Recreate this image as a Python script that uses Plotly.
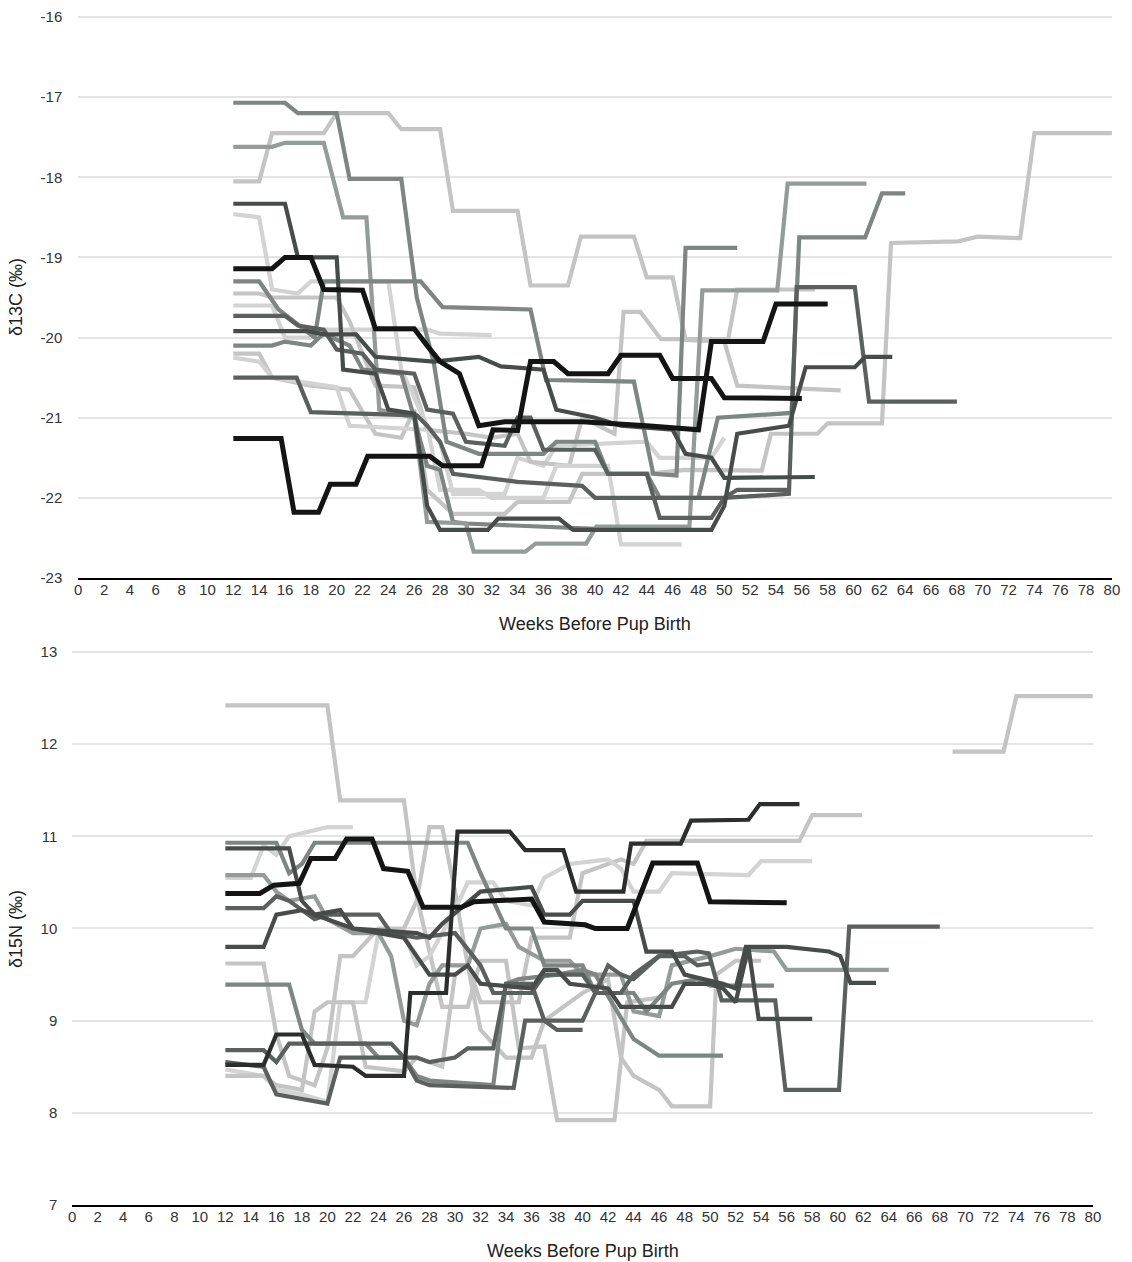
import plotly.graph_objects as go

W, H = 1132, 1262

# ---------------- δ13C panel data (weeks, value) ----------------
c1_w = [12, 16, 17, 20, 21, 25, 26.2, 27.5, 28.5, 31, 36, 37, 40, 41, 44, 45, 48, 49.5, 55.2, 55.8, 60.9, 62.2, 64]
c1_v = [-17.07, -17.07, -17.2, -17.2, -18.02, -18.02, -19.5, -20.3, -21.3, -21.45, -21.45, -21.3, -21.3, -21.7, -21.7, -22.0, -22.0, -21.0, -20.94, -18.75, -18.75, -18.2, -18.2]
c2_w = [12, 15, 16, 19, 20.5, 22.3, 23.3, 26, 27, 30, 30.6, 34.6, 35.4, 39.3, 40.1, 47.3, 48.3, 54.1, 54.9, 61]
c2_v = [-17.62, -17.62, -17.57, -17.57, -18.5, -18.5, -20.9, -21.0, -22.3, -22.32, -22.67, -22.67, -22.57, -22.57, -22.36, -22.36, -19.41, -19.41, -18.08, -18.08]
c3_w = [12, 14, 15, 19, 20, 24, 25, 28, 29, 34, 35, 37.9, 38.9, 43, 44, 46, 47, 50, 51, 59]
c3_v = [-18.05, -18.05, -17.45, -17.45, -17.2, -17.2, -17.4, -17.4, -18.42, -18.42, -19.35, -19.35, -18.74, -18.74, -19.25, -19.25, -20.03, -20.05, -20.6, -20.66]
c4_w = [12, 16, 17, 20, 20.5, 23, 24, 26, 27, 28, 31.7, 32.5, 37.2, 38.3, 49, 50, 51, 55, 56.3, 60.1, 60.9, 63]
c4_v = [-18.33, -18.33, -19.0, -19.0, -20.4, -20.45, -20.9, -20.95, -22.1, -22.4, -22.4, -22.26, -22.26, -22.4, -22.4, -22.1, -21.2, -21.1, -20.37, -20.37, -20.24, -20.24]
c5_w = [12, 14, 15, 17, 18, 24, 25, 27, 28, 31, 32, 36, 37, 41, 42, 46.7]
c5_v = [-18.46, -18.5, -19.4, -19.45, -19.3, -19.3, -20.4, -21.1, -21.9, -21.9, -22.0, -22.0, -21.6, -21.6, -22.58, -22.58]
c6_w = [12, 15, 16, 18, 19, 22, 23, 26, 27, 28, 29.5, 31, 33, 39, 44, 48, 49, 53, 54, 58]
c6_v = [-19.14, -19.14, -19.0, -19.0, -19.4, -19.41, -19.89, -19.89, -20.1, -20.3, -20.45, -21.1, -21.05, -21.05, -21.1, -21.15, -20.05, -20.05, -19.58, -19.58]
c7_w = [12, 15.7, 16.7, 18.6, 19.5, 21.5, 22.4, 27.2, 28.2, 31.2, 32.1, 34, 35, 36.8, 37.9, 41, 42, 45, 46, 49, 50, 56]
c7_v = [-21.26, -21.26, -22.18, -22.18, -21.83, -21.83, -21.48, -21.48, -21.6, -21.6, -21.15, -21.16, -20.3, -20.3, -20.45, -20.45, -20.22, -20.22, -20.51, -20.51, -20.75, -20.76]
c8_w = [12, 14, 15.5, 18.3, 19, 26.5, 28.2, 35, 36.2, 43, 44.5, 46.3, 47, 51]
c8_v = [-19.3, -19.3, -19.65, -20.0, -19.3, -19.3, -19.62, -19.65, -20.53, -20.55, -21.7, -21.72, -18.88, -18.88]
c9_w = [12, 17.8, 19, 21.5, 23, 27.5, 31, 32.7, 36, 37, 40, 42, 46, 47, 49, 50, 57]
c9_v = [-19.92, -19.92, -19.96, -19.96, -20.24, -20.3, -20.24, -20.36, -20.4, -20.9, -21.0, -21.1, -21.15, -21.45, -21.5, -21.75, -21.74]
c10_w = [12, 16.9, 18, 26.2, 27, 28, 29, 34, 39, 40, 50, 51, 55]
c10_v = [-20.5, -20.5, -20.93, -20.97, -21.1, -21.3, -21.7, -21.8, -21.85, -22.0, -22.0, -21.9, -21.9]
c11_w = [12, 16, 17, 19, 20, 22, 23, 26, 27, 29, 30, 33, 34, 35, 36, 40, 41, 44, 45, 49, 50, 55, 55.6, 60.1, 61.2, 68]
c11_v = [-19.73, -19.73, -19.85, -19.9, -20.15, -20.2, -20.4, -20.45, -20.9, -20.95, -21.3, -21.35, -21.0, -21.0, -21.4, -21.4, -21.7, -21.7, -22.25, -22.25, -22.0, -21.95, -19.37, -19.37, -20.8, -20.8]
c12_w = [12, 14, 15, 18, 21, 23, 25, 26, 27, 29, 33, 34, 38, 39, 44, 47, 52.9, 53.6, 57.2, 58, 62.2, 62.9, 68.1, 69.6, 72.9, 74, 80]
c12_v = [-20.2, -20.2, -20.5, -20.6, -20.65, -21.2, -21.25, -20.9, -21.9, -22.2, -22.2, -22.05, -22.05, -21.7, -21.7, -21.65, -21.66, -21.2, -21.2, -21.07, -21.07, -18.82, -18.8, -18.74, -18.76, -17.45, -17.45]
c13_w = [12, 15, 16, 18, 19, 27, 28, 32]
c13_v = [-19.6, -19.6, -20.0, -20.0, -19.9, -19.9, -19.95, -19.97]
c14_w = [12, 14, 15, 20, 21, 23, 26, 27, 30, 32, 34, 35, 38, 39, 41.5, 42.2, 43.5, 45.1, 50.3, 51, 57]
c14_v = [-19.45, -19.45, -19.5, -19.5, -19.8, -20.6, -20.62, -21.15, -21.2, -21.25, -21.2, -21.55, -21.6, -21.0, -21.2, -19.68, -19.68, -20.02, -20.02, -19.4, -19.4]
c15_w = [12, 15, 16, 18, 19, 21, 22, 25, 26, 27, 28, 29, 30, 34, 42, 47.5]
c15_v = [-20.1, -20.1, -20.05, -20.1, -19.95, -20.1, -20.4, -20.45, -21.0, -21.6, -21.65, -22.3, -22.32, -22.35, -22.4, -22.4]
c16_w = [12, 14, 15, 17, 20, 21, 27, 28, 29, 33, 34, 36, 37, 44, 45, 49, 50]
c16_v = [-20.25, -20.3, -20.5, -20.55, -20.62, -21.1, -21.15, -21.3, -21.95, -21.95, -21.5, -21.6, -21.35, -21.3, -21.5, -21.5, -21.25]

# ---------------- δ15N panel data (weeks, value) ----------------
n1_w = [12, 20, 21, 26, 27, 28, 29, 31, 32, 34, 35, 37, 38, 42.5, 43.5, 46]
n1_v = [12.42, 12.42, 11.39, 11.39, 10.35, 9.75, 9.15, 9.15, 9.65, 9.65, 8.7, 8.72, 7.92, 7.92, 9.2, 9.25]
n2_w = [12, 14.7, 15.8, 17.8, 18.7, 20.6, 21.5, 23.5, 24.4, 26.3, 27.5, 30.5, 31.5, 33.6, 36, 37, 40.2, 41, 43.5, 45.5, 49, 50, 56]
n2_v = [10.38, 10.38, 10.47, 10.49, 10.76, 10.76, 10.97, 10.97, 10.65, 10.62, 10.23, 10.23, 10.29, 10.31, 10.32, 10.07, 10.04, 10.0, 10.0, 10.71, 10.71, 10.29, 10.28]
n3_w = [12, 15, 16, 18, 19, 22, 23, 26, 26.5, 29.3, 30.2, 34.3, 35.5, 38.5, 39.5, 43.2, 43.8, 47.7, 48.5, 53, 53.9, 57]
n3_v = [8.52, 8.52, 8.85, 8.85, 8.52, 8.5, 8.4, 8.4, 9.3, 9.3, 11.05, 11.05, 10.85, 10.85, 10.4, 10.4, 10.92, 10.92, 11.17, 11.18, 11.35, 11.35]
n4_w = [12, 16, 17, 18, 19, 31, 32, 33, 34, 36, 37, 40, 41, 44, 45, 47, 49, 50, 55]
n4_v = [10.93, 10.93, 10.6, 10.7, 10.93, 10.93, 10.6, 10.3, 10.0, 10.0, 9.6, 9.6, 9.3, 9.3, 9.1, 9.4, 9.45, 9.38, 9.38]
n5_w = [12, 17, 18, 19, 21, 22, 27, 28, 29, 32, 36, 37, 39, 40, 44, 45, 47, 48, 51, 52, 52.8, 56, 59.3, 60.2, 61, 63]
n5_v = [10.87, 10.87, 10.3, 10.15, 10.2, 10.0, 9.95, 9.9, 10.05, 10.4, 10.45, 10.15, 10.15, 10.3, 10.3, 9.75, 9.75, 9.5, 9.4, 9.35, 9.8, 9.8, 9.75, 9.7, 9.41, 9.41]
n6_w = [12, 15, 16, 17, 19, 20, 22, 24, 25, 26, 27, 28, 29, 31, 32, 34, 35, 37, 39, 40, 43, 44, 46, 47, 50, 52, 55, 56, 64]
n6_v = [10.58, 10.58, 10.4, 10.3, 10.35, 10.1, 9.95, 9.95, 9.7, 9.0, 8.95, 9.4, 9.6, 9.6, 10.0, 10.05, 9.8, 9.65, 9.65, 9.5, 9.5, 9.1, 9.05, 9.6, 9.7, 9.78, 9.75, 9.55, 9.55]
n7_w = [12, 14, 15, 16, 17, 20, 22]
n7_v = [10.55, 10.55, 10.9, 10.8, 11.0, 11.1, 11.1]
n8_w = [12, 15, 16, 17, 19, 20, 24, 25, 27, 30, 32, 33, 36, 37, 40, 41, 43, 44, 46, 49, 49.9, 50.9, 55.1, 55.9, 60.1, 60.9, 68]
n8_v = [10.22, 10.22, 10.35, 10.3, 10.1, 10.15, 10.15, 9.95, 9.9, 9.95, 9.6, 9.3, 9.3, 9.5, 9.5, 9.3, 9.3, 9.5, 9.7, 9.75, 9.73, 9.22, 9.22, 8.25, 8.25, 10.02, 10.02]
n9_w = [12, 15, 16, 18, 19, 22, 26, 27, 28, 30, 31, 32, 36, 37, 38, 39, 42, 43, 47, 48, 50, 51, 52, 53, 53.8, 58]
n9_v = [9.8, 9.8, 10.15, 10.2, 10.15, 10.0, 9.9, 9.7, 9.5, 9.5, 9.6, 9.4, 9.35, 9.55, 9.55, 9.4, 9.35, 9.15, 9.15, 9.4, 9.4, 9.35, 9.2, 9.8, 9.02, 9.02]
n10_w = [12, 15, 16, 17, 19, 20, 21, 22, 24, 26, 27, 28, 29, 30, 31, 32, 35, 36, 39, 40, 43, 44, 45, 57, 58, 61.9]
n10_v = [9.62, 9.62, 8.85, 8.4, 8.3, 8.7, 9.7, 9.7, 10.0, 10.0, 10.3, 11.1, 11.1, 10.4, 9.6, 9.2, 9.2, 9.9, 9.9, 10.6, 10.75, 10.7, 10.95, 10.95, 11.23, 11.23]
n11_w = [12, 17, 18, 19, 23, 24, 26, 27, 28, 33, 34, 35, 38, 40, 41, 44, 46, 51]
n11_v = [9.39, 9.39, 8.9, 8.75, 8.75, 8.6, 8.6, 8.4, 8.35, 8.3, 9.4, 9.45, 9.5, 9.55, 9.5, 8.8, 8.62, 8.62]
n12_w = [12, 15, 16, 17, 25, 26, 27, 28, 34.6, 35.5, 40, 41, 42, 43, 44, 46, 48, 49, 50]
n12_v = [8.68, 8.68, 8.55, 8.75, 8.75, 8.6, 8.35, 8.3, 8.27, 9.0, 9.0, 9.3, 9.6, 9.5, 9.45, 9.7, 9.7, 9.6, 9.62]
n13_w = [12, 15, 16, 18, 20, 21, 27, 28, 30, 31, 33, 34, 36, 37, 38, 40]
n13_v = [8.55, 8.5, 8.2, 8.15, 8.1, 8.6, 8.6, 8.55, 8.6, 8.7, 8.7, 9.4, 9.4, 9.0, 8.9, 8.9]
n14_w = [12, 15, 16, 18, 20, 21, 23, 24, 26, 27, 28, 30, 31, 33, 34, 36, 37, 39, 42, 43, 44, 46, 47, 53, 54, 58]
n14_v = [8.47, 8.4, 8.25, 8.2, 8.12, 9.2, 9.2, 9.95, 9.95, 9.6, 9.7, 10.2, 10.5, 10.5, 10.3, 10.25, 10.55, 10.7, 10.75, 10.65, 10.4, 10.4, 10.6, 10.58, 10.73, 10.73]
n15_w = [12, 15, 16, 18, 19, 20, 22, 23, 26, 27, 29, 30, 31, 32, 34, 36, 37, 40, 42, 43, 44, 46, 47, 50, 50.5, 52, 54]
n15_v = [8.4, 8.4, 8.3, 8.25, 9.1, 9.2, 9.2, 8.5, 8.45, 8.6, 8.5, 9.5, 9.6, 8.9, 8.6, 8.6, 9.0, 9.3, 9.45, 8.6, 8.4, 8.25, 8.07, 8.07, 9.5, 9.65, 9.65]
n16_w = [69, 73, 74, 80]
n16_v = [11.92, 11.92, 12.52, 12.52]

# axis ticks
x_ticks = list(range(0, 81, 2))
c13_ticks = [-23, -22, -21, -20, -19, -18, -17, -16]
n15_ticks = [7, 8, 9, 10, 11, 12, 13]

# ---------------- styles ----------------
BLACK, DARK, DGRAY, MED, MLIGHT, LIGHT, LIGHTER = (
    "#141414", "#474b4a", "#5b605f", "#7e8583", "#959b99", "#c4c4c4", "#d3d3d3")

c13_series = [
    (c12_w, c12_v, LIGHT), (c16_w, c16_v, LIGHTER), (c13_w, c13_v, LIGHTER),
    (c14_w, c14_v, LIGHT), (c5_w, c5_v, LIGHTER), (c3_w, c3_v, LIGHT),
    (c15_w, c15_v, MED), (c2_w, c2_v, MLIGHT), (c8_w, c8_v, MED),
    (c1_w, c1_v, MED), (c10_w, c10_v, DGRAY), (c11_w, c11_v, DGRAY),
    (c4_w, c4_v, DARK), (c9_w, c9_v, DARK),
    (c7_w, c7_v, BLACK), (c6_w, c6_v, BLACK),
]
n15_series = [
    (n1_w, n1_v, LIGHT), (n16_w, n16_v, LIGHT), (n7_w, n7_v, LIGHTER),
    (n10_w, n10_v, LIGHT), (n14_w, n14_v, LIGHTER), (n15_w, n15_v, LIGHT),
    (n6_w, n6_v, MLIGHT), (n11_w, n11_v, MED), (n4_w, n4_v, MED),
    (n12_w, n12_v, DGRAY), (n13_w, n13_v, DGRAY), (n8_w, n8_v, DGRAY),
    (n5_w, n5_v, DARK), (n9_w, n9_v, DARK), (n3_w, n3_v, "#2c2e2e"),
    (n2_w, n2_v, BLACK),
]

fig = go.Figure()
for xs, ys, col in c13_series:
    fig.add_trace(go.Scatter(x=xs, y=ys, mode="lines", xaxis="x", yaxis="y",
                             line=dict(color=col, width=5 if col == BLACK else 4.2),
                             showlegend=False, hoverinfo="skip"))
for xs, ys, col in n15_series:
    fig.add_trace(go.Scatter(x=xs, y=ys, mode="lines", xaxis="x2", yaxis="y2",
                             line=dict(color=col, width=5 if col == BLACK else 4.2),
                             showlegend=False, hoverinfo="skip"))

# the page is shown inside an 8px body margin, so map target pixels accordingly
OFF, VW, VH = 8, W - 16, H - 16


def fx(p):
    return (p - OFF) / VW


def fy(p):
    return 1 - (p - OFF) / VH


FONT = "Liberation Sans, Arial, sans-serif"
tickfont = dict(family=FONT, size=15, color="#333333")
common_x = dict(range=[0, 80], tickmode="array", tickvals=x_ticks,
                ticktext=[str(t) for t in x_ticks], showgrid=False, zeroline=False,
                showline=True, linecolor="#000000", linewidth=2, ticks="",
                tickfont=tickfont, ticklabelstandoff=-3, fixedrange=True)
common_y = dict(showgrid=True, gridcolor="#e4e4e4", gridwidth=1.5, zeroline=False,
                showline=False, ticks="", tickfont=tickfont, tickmode="array",
                fixedrange=True)

fig.update_layout(
    width=W, height=H, margin=dict(l=0, r=0, t=0, b=0),
    paper_bgcolor="white", plot_bgcolor="white",
    xaxis=dict(domain=[fx(82), fx(1112)], anchor="y", **common_x),
    yaxis=dict(domain=[fy(578), fy(15.8)], range=[-23, -15.985], anchor="x",
               tickvals=c13_ticks, ticktext=[str(t) for t in c13_ticks],
               ticklabelstandoff=15, **common_y),
    xaxis2=dict(domain=[fx(76), fx(1093)], anchor="y2", **common_x),
    yaxis2=dict(domain=[fy(1205), fy(650.6)], range=[7, 13.015], anchor="x2",
                tickvals=n15_ticks, ticktext=[str(t) for t in n15_ticks],
                ticklabelstandoff=14, **common_y),
)

title_font = dict(family=FONT, size=18, color="#222222")
ann = [
    dict(text="Weeks Before Pup Birth", x=fx(597), y=fy(624)),
    dict(text="Weeks Before Pup Birth", x=fx(585), y=fy(1251)),
    dict(text="δ13C (‰)", x=fx(20), y=fy(297), textangle=-90),
    dict(text="δ15N (‰)", x=fx(20), y=fy(929), textangle=-90),
]
for a in ann:
    fig.add_annotation(xref="paper", yref="paper", showarrow=False,
                       xanchor="center", yanchor="middle", font=title_font, **a)

fig.write_html("out.html")
